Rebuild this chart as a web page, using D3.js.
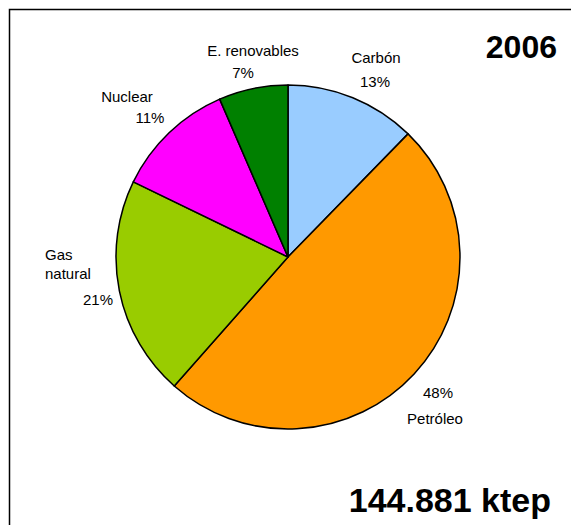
<!DOCTYPE html>
<html><head><meta charset="utf-8">
<script src="https://cdn.jsdelivr.net/npm/d3@7"></script>
<style>body{margin:0;background:#fff}svg{display:block}text{font-family:"Liberation Sans",Arial,sans-serif}</style>
</head><body>
<svg id="c" width="571" height="525"></svg>
<script>
const categories = ["Carbón","Petróleo","Gas natural","Nuclear","E. renovables"];
const values = [12.3, 49.2, 20.7, 11.3, 6.5];
const pctLabels = ["13%","48%","21%","11%","7%"];
const colors = ["#99CCFF","#FF9900","#99CC00","#FF00FF","#008000"];
const title = "2006";
const total = "144.881 ktep";

const svg = d3.select("#c");
svg.append("rect").attr("x",9.5).attr("y",9.5).attr("width",700).attr("height",700)
  .attr("fill","#fff").attr("stroke","#000").attr("stroke-width",1.5);

const cx = 288, cy = 257, r = 172;
const data = categories.map((c,i)=>({c, v:values[i], p:pctLabels[i], col:colors[i]}));
const pie = d3.pie().value(d=>d.v).sort(null);
const arc = d3.arc().innerRadius(0).outerRadius(r);
const g = svg.append("g").attr("transform",`translate(${cx},${cy})`);
g.selectAll("path").data(pie(data)).join("path")
  .attr("d",arc).attr("fill",d=>d.data.col)
  .attr("stroke","#000").attr("stroke-width",1.5).attr("stroke-linejoin","round");

const labelPos = [
  {lines:["Carbón", pctLabels[0]], anchor:"middle", x:[376,375], y:[63,87]},
  {lines:[pctLabels[1], "Petróleo"], anchor:"middle", x:[438,435], y:[398,424]},
  {lines:["Gas","natural", pctLabels[2]], anchor:["start","start","end"], x:[45,45,113], y:[260,279,305]},
  {lines:["Nuclear", pctLabels[3]], anchor:"middle", x:[127,150], y:[102,123]},
  {lines:["E. renovables", pctLabels[4]], anchor:"middle", x:[253,243], y:[56,78]}
];
labelPos.forEach(L=>{
  L.lines.forEach((t,j)=>{
    svg.append("text").attr("x",L.x[j]).attr("y",L.y[j])
      .attr("text-anchor", Array.isArray(L.anchor)?L.anchor[j]:L.anchor)
      .attr("font-size",15).attr("fill","#000").text(t);
  });
});

svg.append("text").attr("x",557).attr("y",58).attr("text-anchor","end")
  .attr("font-size",32).attr("font-weight","bold").text(title);
svg.append("text").attr("x",551).attr("y",512).attr("text-anchor","end")
  .attr("font-size",34).attr("font-weight","bold").text(total);
</script>
</body></html>
